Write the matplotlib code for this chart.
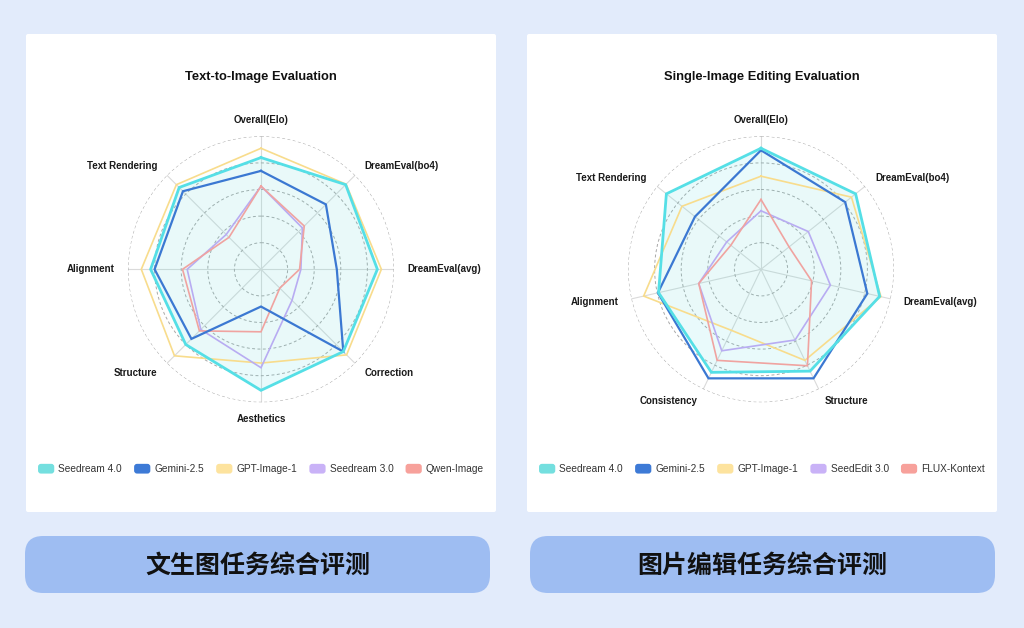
import numpy as np
import matplotlib
matplotlib.use("Agg")
import matplotlib.pyplot as plt
from matplotlib.patches import FancyBboxPatch, Patch
from matplotlib.legend_handler import HandlerPatch

# ---------------- data ----------------
t2i_categories = ["Overall(Elo)", "DreamEval(bo4)", "DreamEval(avg)", "Correction",
                  "Aesthetics", "Structure", "Alignment", "Text Rendering"]
t2i_series = ["Seedream 4.0", "Gemini-2.5", "GPT-Image-1", "Seedream 3.0", "Qwen-Image"]
t2i_seedream4 = [0.84, 0.90, 0.875, 0.875, 0.91, 0.80, 0.83, 0.87]
t2i_gemini = [0.74, 0.69, 0.57, 0.875, 0.28, 0.74, 0.80, 0.83]
t2i_gpt = [0.91, 0.905, 0.905, 0.91, 0.705, 0.92, 0.90, 0.90]
t2i_seedream3 = [0.625, 0.44, 0.30, 0.33, 0.74, 0.64, 0.555, 0.37]
t2i_qwen = [0.625, 0.46, 0.29, 0.20, 0.47, 0.655, 0.59, 0.34]

edit_categories = ["Overall(Elo)", "DreamEval(bo4)", "DreamEval(avg)", "Structure",
                   "Consistency", "Alignment", "Text Rendering"]
edit_series = ["Seedream 4.0", "Gemini-2.5", "GPT-Image-1", "SeedEdit 3.0", "FLUX-Kontext"]
edit_seedream4 = [0.91, 0.91, 0.915, 0.85, 0.86, 0.79, 0.91]
edit_gemini = [0.895, 0.81, 0.82, 0.91, 0.91, 0.795, 0.635]
edit_gpt = [0.70, 0.87, 0.925, 0.76, 0.51, 0.905, 0.76]
edit_seededit = [0.44, 0.455, 0.535, 0.59, 0.68, 0.48, 0.33]
edit_flux = [0.525, 0.27, 0.39, 0.805, 0.76, 0.48, 0.29]

panel_titles = ["Text-to-Image Evaluation", "Single-Image Editing Evaluation"]
button_labels = ["文生图任务综合评测", "图片编辑任务综合评测"]

# ---------------- style ----------------
line_colors = ["#55dfe6", "#3b78d2", "#f8dc8c", "#b8acf2", "#f0a3a0"]
legend_colors = ["#74dfdf", "#3d7ad6", "#fde39e", "#c9b2f7", "#f7a19b"]
line_widths = [2.0, 1.6, 1.2, 1.2, 1.2]
fill_alphas = [0.13, 0.0, 0.015, 0.0, 0.0]

W, H = 1024, 628
BG = "#e2ebfb"
LATIN = ["Liberation Sans", "DejaVu Sans"]
CJK = ["Noto Sans CJK SC", "DejaVu Sans"]

fig = plt.figure(figsize=(W / 100, H / 100), dpi=100, facecolor=BG)
T = fig.dpi_scale_trans


class RoundHandler(HandlerPatch):
    def create_artists(self, legend, orig_handle, xdescent, ydescent, width, height, fontsize, trans):
        p = FancyBboxPatch((-xdescent, -ydescent), width, height,
                           boxstyle=f"round,pad=0,rounding_size={height * 0.3}",
                           facecolor=orig_handle.get_facecolor(), edgecolor="none", transform=trans)
        return [p]


def box(x0, y0, x1, y1, color, rnd):
    p = FancyBboxPatch(((x0) / 100, (H - y1) / 100), (x1 - x0) / 100, (y1 - y0) / 100,
                       boxstyle=f"round,pad=0,rounding_size={rnd / 100}",
                       facecolor=color, edgecolor="none", transform=T, zorder=-5)
    fig.patches.append(p)


panels = [(26, 34, 496, 512), (527, 34, 997, 512)]
buttons = [(25, 536, 490, 593), (530, 536, 995, 593)]
centers = [(261, 269.3), (761, 269.3)]
R = 133

for (x0, y0, x1, y1) in panels:
    box(x0, y0, x1, y1, "white", 2)
for (x0, y0, x1, y1), lab in zip(buttons, button_labels):
    box(x0, y0, x1, y1, "#9ebdf2", 18)
    fig.text(((x0 + x1) / 2) / W, 1 - ((y0 + y1) / 2 + 1) / H, lab, family=CJK,
             fontsize=18, fontweight="bold", color="#111111", ha="center", va="center")

charts = [
    (t2i_categories, t2i_series, [t2i_seedream4, t2i_gemini, t2i_gpt, t2i_seedream3, t2i_qwen]),
    (edit_categories, edit_series, [edit_seedream4, edit_gemini, edit_gpt, edit_seededit, edit_flux]),
]

for idx, (cats, names, data) in enumerate(charts):
    cx, cy = centers[idx]
    x0, y0, x1, y1 = panels[idx]
    ax = fig.add_axes([(cx - R) / W, 1 - (cy + R) / H, 2 * R / W, 2 * R / H], projection="polar")
    ax.set_zorder(1)
    ax.patch.set_visible(False)
    ax.set_theta_offset(np.pi / 2)
    ax.set_theta_direction(-1)
    n = len(cats)
    angles = np.linspace(0, 2 * np.pi, n, endpoint=False)
    ax.set_ylim(0, 1.0)
    ax.set_xticks(angles)
    ax.set_xticklabels([])
    ax.set_yticks([0.2, 0.4, 0.6, 0.8, 1.0])
    ax.set_yticklabels([])
    ax.tick_params(length=0)
    ax.xaxis.grid(True, color="#dadada", linewidth=0.8, linestyle="-")
    ax.yaxis.grid(True, color="#a8a8a8", linewidth=0.7, linestyle=(0, (3, 2.5)))
    ax.spines["polar"].set_visible(False)
    ang_c = np.concatenate([angles, angles[:1]])
    for k, (vals, name) in enumerate(zip(data, names)):
        if fill_alphas[k] > 0:
            v = np.concatenate([vals, vals[:1]])
            ax.fill(ang_c, v, color=line_colors[k], alpha=fill_alphas[k], zorder=2, linewidth=0)
    order = [2, 3, 4, 1, 0]
    for k in order:
        v = np.concatenate([data[k], data[k][:1]])
        ax.plot(ang_c, v, color=line_colors[k], linewidth=line_widths[k], zorder=3 + (k == 0) + (k == 1),
                solid_joinstyle="miter")
    for a, lab in zip(angles, cats):
        sx = np.sin(a)
        if abs(sx) < 0.1:
            ha, r = "center", 1.125
        elif sx > 0:
            ha, r = "left", 1.1
        else:
            ha, r = "right", 1.1
        ax.text(a, r, lab, ha=ha, va="center", family=LATIN, fontsize=7,
                fontweight="bold", color="#1a1a1a", clip_on=False)
    fig.text(((x0 + x1) / 2) / W, 1 - 77 / H, panel_titles[idx], family=LATIN,
             fontsize=9.3, fontweight="bold", color="#111111", ha="center", va="center")
    handles = [Patch(facecolor=legend_colors[k], edgecolor="none") for k in range(len(names))]
    fig.legend(handles, names, loc="center", bbox_to_anchor=(((x0 + x1) / 2) / W, 1 - 469 / H),
               ncol=5, frameon=False, prop={"family": LATIN, "size": 7.3},
               handlelength=1.6, handleheight=1.1, handletextpad=0.4, columnspacing=1.2,
               labelcolor="#333333", handler_map={Patch: RoundHandler()})

fig.savefig("out.png", dpi=100, facecolor=BG)
